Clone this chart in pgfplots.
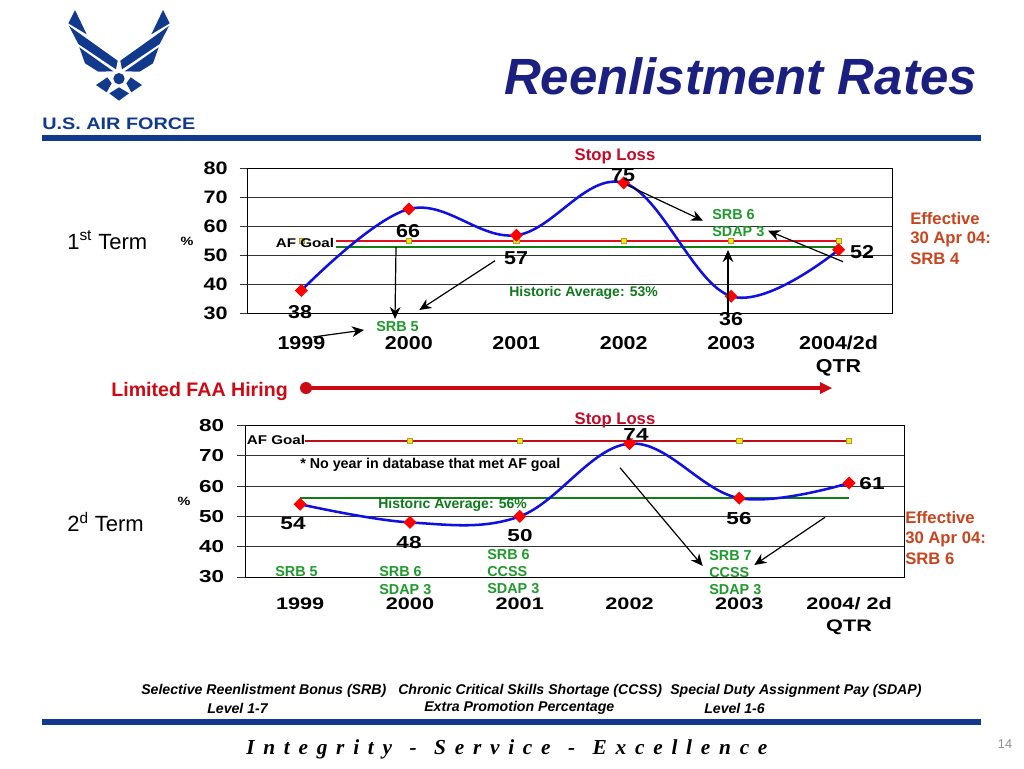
\documentclass[border=0pt]{standalone}
\usepackage{fontspec}
\setmainfont{Liberation Sans}
\newfontfamily\serifb{Liberation Serif}
\usepackage{pgfplots}
\usetikzlibrary{arrows.meta}
\pgfplotsset{compat=1.18}
\definecolor{navy}{HTML}{1B2080}
\definecolor{band}{HTML}{123A8C}
\definecolor{logob}{HTML}{123A8C}
\definecolor{stopred}{HTML}{C40A28}
\definecolor{effor}{HTML}{C8441E}
\definecolor{srbgreen}{HTML}{1F9A2C}
\definecolor{histgreen}{HTML}{0F7A1C}
\definecolor{linegreen}{HTML}{0F7F14}
\definecolor{goalred}{HTML}{E0101C}
\definecolor{blueline}{HTML}{1010E0}
\definecolor{faared}{HTML}{CC0A14}
\newcommand{\fs}[1]{\fontsize{#1}{#1}\selectfont}
\pgfplotsset{
  common/.style={
    anchor=south west, scale only axis, clip=false,
    xmin=-0.5, xmax=5.5, ymin=30, ymax=80,
    xtick={0,1,2,3,4,5},
    ymajorgrids,
    major grid style={black!80,line width=0.5pt},
    axis line style={black,line width=0.6pt},
    /pgf/number format/assume math mode=true,
    tick align=outside,
    ytick pos=left,
    x tick style={draw=none},
    major tick length=6pt,
    tick style={black!80,line width=0.5pt},
  },
  blue/.style={blueline,line width=1.9pt,smooth,tension=0.62,
    mark=square*,mark size=2.5pt,mark options={rotate=45,fill=red,draw=red,solid}},
  goalm/.style={only marks,mark=square*,mark size=1.9pt,mark options={fill=yellow!90!orange,draw=yellow!60!black,line width=0.4pt}},
}
\pgfplotstableread{
x y
0 38
1 66
2 57
3 75
4 36
5 52
}\firstterm
\pgfplotstableread{
x y
0 54
1 48
2 50
3 74
4 56
5 61
}\secondterm
\begin{document}
\begin{tikzpicture}
\begin{scope}[x=0.75pt,y=-0.75pt]
\path[use as bounding box,fill=white] (0,0) rectangle (1024,768);
\coordinate (A1) at (247.7,313.7);
\coordinate (A2) at (245.3,577);
\end{scope}
% ---------- first axis
\begin{axis}[common,at={(A1)},width=483.45pt,height=109pt,
  ytick={30,50,70,80}, extra y ticks={40,60},
  extra tick style={grid style={black!45,line width=0.7pt}},
  yticklabel style={font=\fs{13.5}\bfseries,xscale=1.2,xshift=-4pt},
  xticklabels={1999,2000,2001,2002,2003,{2004/2d\\QTR}},
  xticklabel style={font=\fontsize{14}{17}\selectfont\bfseries,xscale=1.15,align=center,anchor=north,yshift=-7.5pt},
]
\addplot[linegreen,line width=1.7pt] coordinates {(0.32,53) (5,53)};
\addplot[goalred,line width=1.4pt] coordinates {(0.32,55) (5,55)};
\addplot[goalm] coordinates {(0,55) (1,55) (2,55) (3,55) (4,55) (5,55)};
\addplot[blue] table[x=x,y=y] {\firstterm};
\end{axis}
% ---------- second axis
\begin{axis}[common,at={(A2)},width=494pt,height=113.7pt,
  ytick={30,40,50,60,80}, extra y ticks={70},
  extra tick style={grid style={black!45,line width=0.7pt}},
  yticklabel style={font=\fs{13}\bfseries,xscale=1.3,xshift=-4pt},
  xticklabels={1999,2000,2001,2002,2003,{2004/ 2d\\QTR}},
  xticklabel style={font=\fontsize{12.5}{16.5}\selectfont\bfseries,xscale=1.3,align=center,anchor=north,yshift=-6pt},
]
\addplot[linegreen,line width=1.4pt] coordinates {(0,56) (5,56)};
\addplot[goalred!85!black,line width=1.6pt] coordinates {(0.04,75) (5,75)};
\addplot[goalm] coordinates {(1,75) (2,75) (3,75) (4,75) (5,75)};
\addplot[blue] table[x=x,y=y] {\secondterm};
\end{axis}
% ---------- slide furniture and annotations, in pixel coordinates
\begin{scope}[x=0.75pt,y=-0.75pt]
\fill[band] (42,135) rectangle (981,141);
\fill[band] (42,719) rectangle (981,725);
\node[anchor=east,inner sep=0,text=navy,font=\fs{38.2}\bfseries\itshape] at (977,76) {Reenlistment Rates};
\node[anchor=west,inner sep=0,text=logob,font=\fs{12.5}\bfseries,xscale=1.19] at (42,124) {U.S. AIR FORCE};
% data labels
\begin{scope}[every node/.style={inner sep=0,font=\fs{14}\bfseries,xscale=1.15}]
\node at (300,312) {38}; \node at (408,231) {66}; \node at (516,258) {57};
\node at (623,175) {75}; \node at (731,319) {36}; \node at (862,252) {52};
\end{scope}
\begin{scope}[every node/.style={inner sep=0,font=\fs{13}\bfseries,xscale=1.3}]
\node at (293,524) {54}; \node at (409,543) {48}; \node at (520,536) {50};
\node at (636,435) {74}; \node at (739,519) {56}; \node at (872,484) {61};
\end{scope}
% percent and AF Goal
\node[inner sep=0,font=\fs{9}\bfseries,xscale=1.2] at (187,241) {\%};
\node[inner sep=0,font=\fs{9}\bfseries,xscale=1.2] at (184,501) {\%};
\node[inner sep=0,font=\fs{9.5}\bfseries,xscale=1.2] at (305,243) {AF Goal};
\node[inner sep=0,font=\fs{9.5}\bfseries,xscale=1.2] at (276,440) {AF Goal};
% terms
\node[anchor=west,inner sep=0,font=\fs{16.5}] at (67,240) {1\textsuperscript{st} Term};
\node[anchor=west,inner sep=0,font=\fs{16.5}] at (67,522) {2\textsuperscript{d} Term};
% stop loss
\node[inner sep=0,text=stopred,font=\fs{12.5}\bfseries] at (615,156.5) {Stop Loss};
\node[inner sep=0,text=stopred,font=\fs{12.5}\bfseries] at (615,420.5) {Stop Loss};
% effective
\begin{scope}[every node/.style={anchor=west,inner sep=0,text=effor,font=\fs{12.5}\bfseries}]
\node at (910,219) {Effective}; \node at (910,239.5) {30 Apr 04:}; \node at (910,259) {SRB 4};
\node at (905,518) {Effective}; \node at (905,539) {30 Apr 04:}; \node at (905,559) {SRB 6};
\end{scope}
% green
\begin{scope}[every node/.style={anchor=west,inner sep=0,text=srbgreen,font=\fs{10.8}\bfseries}]
\node at (376,326.5) {SRB 5};
\node at (712,214.5) {SRB 6}; \node at (712,231.5) {SDAP 3};
\node at (275,571.5) {SRB 5};
\node at (379,571.5) {SRB 6}; \node at (379,589.5) {SDAP 3};
\node at (487,554.5) {SRB 6}; \node at (487,571.5) {CCSS}; \node at (487,588.5) {SDAP 3};
\node at (709,555.5) {SRB 7}; \node at (709,572.5) {CCSS}; \node at (709,589.5) {SDAP 3};
\end{scope}
\node[anchor=west,inner sep=0,text=histgreen,font=\fs{10.5}\bfseries] at (509,293) {Historic Average: 53\%};
\node[anchor=west,inner sep=0,text=histgreen,font=\fs{10.5}\bfseries] at (378,505) {Historic Average: 56\%};
\node[anchor=west,inner sep=0,font=\fs{10.7}\bfseries] at (300,465) {* No year in database that met AF goal};
% arrows
\begin{scope}[-{Stealth[length=9pt,width=8pt]},black,line width=0.9pt]
\draw (396,247) -- (395,319);
\draw (495,260.7) -- (419.3,310);
\draw (313,337) -- (364,330);
\draw (627,185) -- (703,220.7);
\draw (843,261.7) -- (768,230.7);
\draw (728,313) -- (728,250);
\draw (620,467.7) -- (702.7,566);
\draw (825,517.3) -- (754.3,565);
\end{scope}
% FAA hiring
\node[anchor=east,inner sep=0,text=faared,font=\fs{14.7}\bfseries] at (288,391) {Limited FAA Hiring};
\fill[faared] (306,388) circle[radius=6];
\draw[faared,line width=3pt] (306,388) -- (822,388);
\fill[faared] (832,388) -- (820,382) -- (820,394) -- cycle;
% footer
\begin{scope}[every node/.style={anchor=west,inner sep=0,font=\fs{10.6}\bfseries\itshape}]
\node at (141,691) {Selective Reenlistment Bonus (SRB)};
\node at (398,691) {Chronic Critical Skills Shortage (CCSS)};
\node at (670,691) {Special Duty Assignment Pay (SDAP)};
\node at (207,708) {Level 1-7};
\node at (424,708) {Extra Promotion Percentage};
\node at (704,708) {Level 1-6};
\end{scope}
\node[anchor=west,inner sep=0,font=\serifb\fs{16}\bfseries\itshape] at (246,749) {\spaceskip=0.41em I n t e g r i t y ~-~ S e r v i c e ~-~ E x c e l l e n c e};
\node[inner sep=0,text=black!45,font=\fs{9.5}] at (1005,744) {14};
\end{scope}
% logo
\begin{scope}[x=0.25pt,y=-0.25pt,xshift=22.5pt,fill=logob]
\fill (135,30) -- (170,103) -- (115,70) -- cycle;
\fill (117,78) -- (263,182) -- (258,208) -- (145,132) -- cycle;
\fill (148,142) -- (250,214) -- (205,215) -- (165,190) -- cycle;
\fill (399,30) -- (364,103) -- (419,70) -- cycle;
\fill (417,78) -- (271,182) -- (276,208) -- (389,132) -- cycle;
\fill (386,142) -- (284,214) -- (329,215) -- (369,190) -- cycle;
\fill (267,236) circle[radius=17];
\fill (198,255) -- (232,232) -- (245,250) -- (230,277) -- cycle;
\fill (336,255) -- (302,232) -- (289,250) -- (304,277) -- cycle;
\fill (267,262) -- (297,280) -- (267,302) -- (238,280) -- cycle;
\end{scope}
\end{tikzpicture}
\end{document}
